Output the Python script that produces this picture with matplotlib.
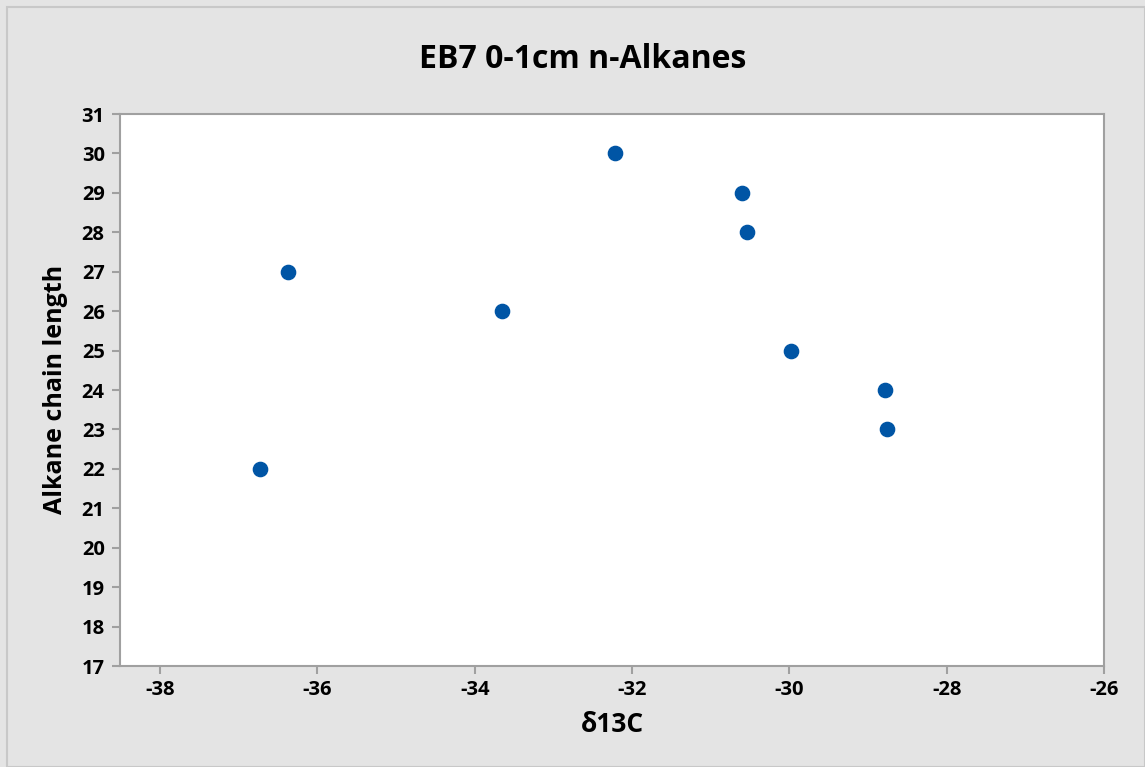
import matplotlib
matplotlib.use("Agg")
import matplotlib.pyplot as plt
from matplotlib.patches import Rectangle

plt.rcParams["font.family"] = ["Open Sans", "DejaVu Sans"]

# Data.
d13c = [-36.73, -36.38, -33.65, -32.22, -30.60, -30.54, -29.98, -28.79, -28.76]
chain_length = [22, 27, 26, 30, 29, 28, 25, 24, 23]
x_ticks = [-38, -36, -34, -32, -30, -28, -26]
y_ticks = list(range(17, 32))

fig = plt.figure(figsize=(11.45, 7.67), dpi=100)
fig.patch.set_facecolor("#e4e4e4")
# thin outer frame
fig.patches.append(Rectangle((7 / 1145, 0), 1 - 7 / 1145, 1 - 7 / 767,
                             transform=fig.transFigure, fill=False,
                             edgecolor="#c8c8c8", linewidth=1.5))

ax = fig.add_axes([120 / 1145, 1 - 666 / 767, (1104 - 120) / 1145, (666 - 114) / 767])
ax.set_facecolor("white")

ax.scatter(d13c, chain_length, s=105, color="#0055a5", zorder=3)

ax.set_xlim(-38.51, -26)
ax.set_ylim(17, 31)
ax.set_xticks(x_ticks)
ax.set_yticks(y_ticks)
ax.set_xticklabels([str(v) for v in x_ticks], fontsize=14.5, fontweight="bold")
ax.set_yticklabels([str(v) for v in y_ticks], fontsize=14.5, fontweight="bold")

for sp in ax.spines.values():
    sp.set_color("#a0a0a0")
    sp.set_linewidth(1.5)

ax.tick_params(axis="both", direction="out", length=6, width=1.5, color="#a0a0a0")
ax.tick_params(axis="x", pad=4)
ax.tick_params(axis="y", pad=5)

fig.text(583 / 1145, 1 - 68 / 767, "EB7 0-1cm n-Alkanes", fontsize=23,
         fontweight="bold", ha="center", va="baseline")
fig.text(612 / 1145, 1 - 725 / 767, "δ13C", fontsize=19, fontweight="bold",
         ha="center", va="center")
fig.text(55 / 1145, 1 - 389 / 767, "Alkane chain length", fontsize=18,
         fontweight="bold", ha="center", va="center", rotation=90)

fig.savefig("out.png", dpi=100, facecolor=fig.get_facecolor())
